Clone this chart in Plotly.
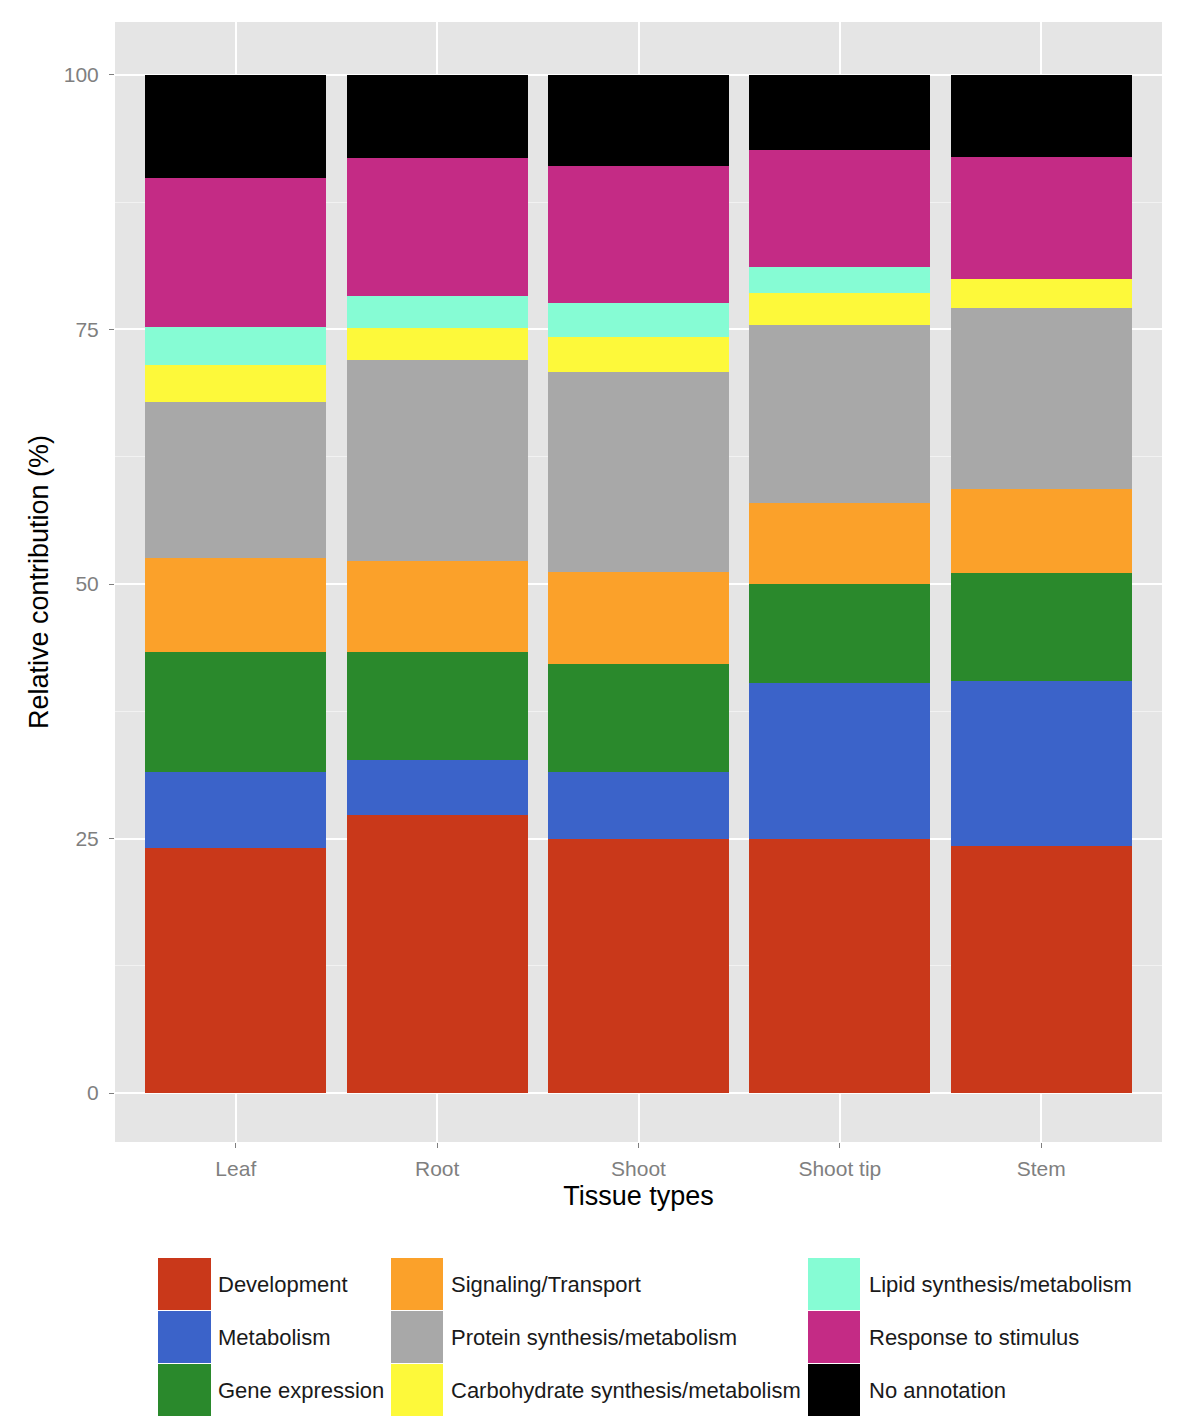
import plotly.graph_objects as go

tissues = ["Leaf", "Root", "Shoot", "Shoot tip", "Stem"]

categories = [
    "Development", "Metabolism", "Gene expression",
    "Signaling/Transport", "Protein synthesis/metabolism",
    "Carbohydrate synthesis/metabolism", "Lipid synthesis/metabolism",
    "Response to stimulus", "No annotation",
]
colors = ["#C9381A", "#3B63C9", "#2A892C", "#FBA12A", "#A8A8A8",
          "#FDF93A", "#86FCD4", "#C42B85", "#000000"]

development   = [24.1, 27.3, 25.0, 25.0, 24.3]
metabolism    = [7.4, 5.4, 6.5, 15.3, 16.2]
gene_expr     = [11.8, 10.6, 10.6, 9.7, 10.6]
signaling     = [9.3, 9.0, 9.1, 8.0, 8.2]
protein       = [15.3, 19.7, 19.6, 17.4, 17.8]
carbohydrate  = [3.6, 3.1, 3.5, 3.2, 2.9]
lipid         = [3.7, 3.2, 3.3, 2.5, 0.0]
response      = [14.7, 13.5, 13.5, 11.5, 11.9]
no_annotation = [10.1, 8.2, 8.9, 7.4, 8.1]

series = [development, metabolism, gene_expr, signaling, protein,
          carbohydrate, lipid, response, no_annotation]

fig = go.Figure()
for name, vals, col in zip(categories, series, colors):
    fig.add_trace(go.Bar(x=tissues, y=vals, name=name, width=0.9,
                         marker=dict(color=col, line=dict(width=0)),
                         showlegend=False))

W, H = 1200, 1425
OFF = 8  # page body offset
L, R, T, B = 115 - OFF, 38 + OFF, 22 - OFF, 283 + OFF
pw, ph = W - L - R, H - T - B

def px(x):
    return (x - OFF - L) / pw

def py(y):
    return (H - B - (y - OFF)) / ph

shapes = []
annotations = []
cols_x = [(158, 211, 216), (391, 443, 449), (808, 860, 867)]
rows_y = [(1258, 1310), (1311, 1363), (1364, 1416)]
for i, (name, col) in enumerate(zip(categories, colors)):
    c, r = divmod(i, 3)
    x0, x1, tx = cols_x[c]
    y0, y1 = rows_y[r]
    shapes.append(dict(type="rect", xref="paper", yref="paper",
                       x0=px(x0), x1=px(x1), y0=py(y1), y1=py(y0),
                       fillcolor=col, line=dict(width=0)))
    annotations.append(dict(xref="paper", yref="paper", x=px(tx),
                            y=py((y0 + y1) / 2), text=name, showarrow=False,
                            xanchor="left", yanchor="middle",
                            font=dict(size=22, color="#1a1a1a")))

fig.update_layout(
    width=W, height=H,
    margin=dict(l=L, r=R, t=T, b=B),
    barmode="stack",
    paper_bgcolor="white",
    plot_bgcolor="#E5E5E5",
    font=dict(family="Liberation Sans, Arial, sans-serif", color="#1a1a1a"),
    shapes=shapes,
    annotations=annotations,
    showlegend=False,
    xaxis=dict(range=[-0.6, 4.6], showgrid=True, gridcolor="white",
               gridwidth=2, ticks="outside", ticklen=5, tickwidth=1,
               tickcolor="#7F7F7F", tickfont=dict(size=21, color="#7F7F7F"),
               ticklabelstandoff=3,
               title=dict(text="Tissue types", font=dict(size=27, color="black"),
                          standoff=6),
               zeroline=False, fixedrange=True),
    yaxis=dict(range=[-4.8, 105.2], tickvals=[0, 25, 50, 75, 100],
               showgrid=True, gridcolor="white", gridwidth=2,
               minor=dict(tickvals=[12.5, 37.5, 62.5, 87.5], showgrid=True,
                          gridcolor="#F2F2F2", gridwidth=1),
               ticks="outside", ticklen=5, tickwidth=1, tickcolor="#7F7F7F",
               tickfont=dict(size=21, color="#7F7F7F"),
               ticklabelstandoff=6,
               title=dict(text="Relative contribution (%)",
                          font=dict(size=27, color="black"), standoff=7),
               zeroline=False, fixedrange=True),
)

fig.write_html("out.html")
